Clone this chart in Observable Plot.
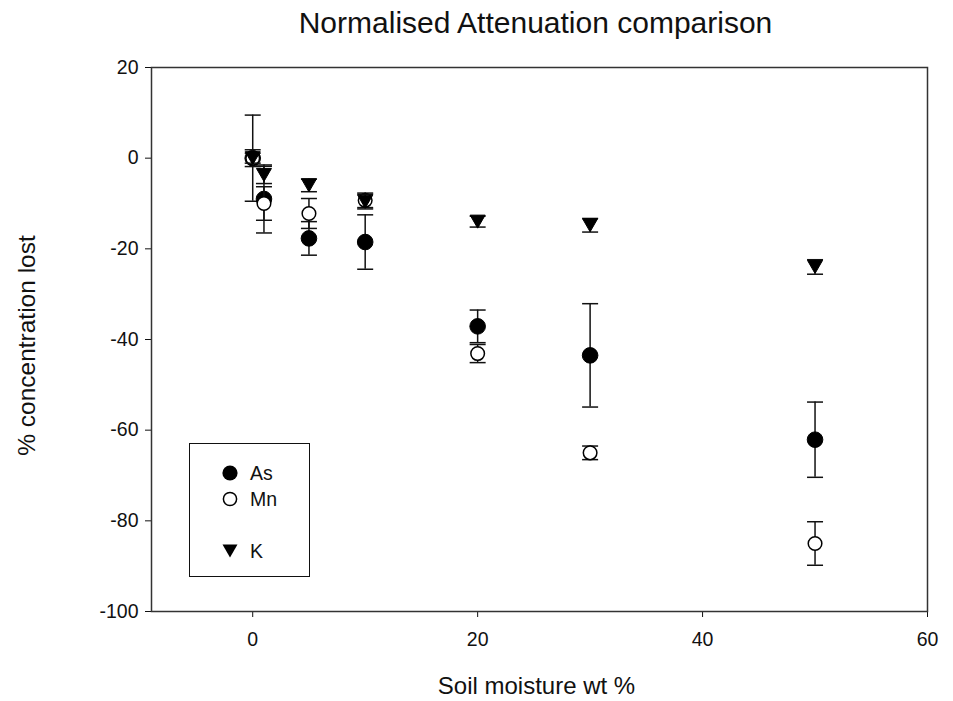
<!DOCTYPE html>
<html>
<head>
<meta charset="utf-8">
<script src="https://cdn.jsdelivr.net/npm/d3@7"></script>
<script src="https://cdn.jsdelivr.net/npm/@observablehq/plot@0.6"></script>
<style>
  html, body { margin: 0; padding: 0; background: #fff; }
  #wrap { position: relative; width: 953px; height: 701px; font-family: Arial, "Liberation Sans", sans-serif; }
  #legend { position: absolute; left: 189px; top: 443px; width: 119px; height: 132px; border: 1.5px solid #111; background: #fff; }
  .li { position: absolute; left: 0; font-size: 19.5px; color: #111; }
  .li svg { position: absolute; left: 31px; top: 0; }
  .li span { position: absolute; left: 60px; top: -2px; }
</style>
</head>
<body>
<div id="wrap"></div>
<script>
// ---- data ----
const moisture = [0, 1, 5, 10, 20, 30, 50];
const asValues = [0, -9, -17.7, -18.5, -37.1, -43.5, -62.1];
const asErrors = [9.5, 7.5, 3.7, 6, 3.6, 11.4, 8.3];
const mnValues = [0, -10, -12.2, -9.3, -43.1, -65, -85];
const mnErrors = [1.85, 3.7, 3.3, 1.6, 2, 1.5, 4.8];
const kValues = [0, -3.7, -6, -9.6, -14, -14.8, -24];
const kErrors = [1.1, 1.9, 1.4, 1.6, 1.2, 1.5, 1.6];
const seriesNames = ["As", "Mn", "K"];
const xTicks = [0, 20, 40, 60];
const yTicks = [20, 0, -20, -40, -60, -80, -100];

const titleText = "Normalised Attenuation comparison";
const xLabel = "Soil moisture wt %";
const yLabel = "% concentration lost";

function table(vals, errs) {
  return moisture.map((x, i) => ({x, y: vals[i], lo: vals[i] - errs[i], hi: vals[i] + errs[i]}));
}
const asData = table(asValues, asErrors);
const mnData = table(mnValues, mnErrors);
const kData = table(kValues, kErrors);

const cap = { draw(ctx) { ctx.moveTo(-8, 0); ctx.lineTo(8, 0); } };
const triDown = { draw(ctx) { ctx.moveTo(-7.5, -6.5); ctx.lineTo(7.5, -6.5); ctx.lineTo(0, 6.5); ctx.closePath(); } };

function errorMarks(data) {
  return [
    Plot.ruleX(data, {x: "x", y1: "lo", y2: "hi", stroke: "#111", strokeWidth: 1.5}),
    Plot.dot(data, {x: "x", y: "lo", symbol: cap, fill: "none", stroke: "#111", strokeWidth: 1.5}),
    Plot.dot(data, {x: "x", y: "hi", symbol: cap, fill: "none", stroke: "#111", strokeWidth: 1.5})
  ];
}

const chart = Plot.plot({
  width: 953,
  height: 701,
  marginLeft: 151,
  marginRight: 26,
  marginTop: 67,
  marginBottom: 90,
  style: {fontFamily: 'Arial, "Liberation Sans", sans-serif', fontSize: "19.5px", color: "#111", background: "#fff"},
  x: {domain: [-9, 60], ticks: xTicks, tickSize: 6, tickPadding: 15, label: null, tickFormat: d => String(d)},
  y: {domain: [-100, 20], ticks: yTicks, tickSize: 6, tickPadding: 7, label: null, tickFormat: d => String(d).replace("−", "-")},
  marks: [
    Plot.frame({stroke: "#333", strokeWidth: 1.5}),
    ...errorMarks(asData),
    Plot.dot(asData, {x: "x", y: "y", r: 7.8, fill: "#000", stroke: "#000", strokeWidth: 1}),
    ...errorMarks(mnData),
    Plot.dot(mnData, {x: "x", y: "y", r: 6.8, fill: "#fff", stroke: "#000", strokeWidth: 1.5}),
    ...errorMarks(kData),
    Plot.dot(kData, {x: "x", y: "y", symbol: triDown, fill: "#000", stroke: "#000", strokeWidth: 1}),
    Plot.text([titleText], {text: d => d, frameAnchor: "top", textAnchor: "middle", lineAnchor: "middle", dy: -44, dx: -4, fontSize: 30, fill: "#111"}),
    Plot.text([xLabel], {text: d => d, frameAnchor: "bottom", textAnchor: "middle", lineAnchor: "middle", dy: 75, dx: -3, fontSize: 24, fill: "#111"}),
    Plot.text([yLabel], {text: d => d, frameAnchor: "left", textAnchor: "middle", lineAnchor: "middle", rotate: -90, dx: -124, dy: 6, fontSize: 24.5, fill: "#111"})
  ]
});

const wrap = document.getElementById("wrap");
wrap.appendChild(chart);

// legend
const legend = document.createElement("div");
legend.id = "legend";
const items = [
  {name: seriesNames[0], top: 20, svg: '<circle cx="9" cy="9" r="7.6" fill="#000"/>'},
  {name: seriesNames[1], top: 46, svg: '<circle cx="9" cy="9" r="6.6" fill="#fff" stroke="#000" stroke-width="1.5"/>'},
  {name: seriesNames[2], top: 98, svg: '<path d="M1.5,2.5 L16.5,2.5 L9,15.5 Z" fill="#000"/>'}
];
for (const it of items) {
  const d = document.createElement("div");
  d.className = "li";
  d.style.top = it.top + "px";
  d.innerHTML = `<svg width="18" height="18">${it.svg}</svg><span>${it.name}</span>`;
  legend.appendChild(d);
}
wrap.appendChild(legend);
</script>
</body>
</html>
